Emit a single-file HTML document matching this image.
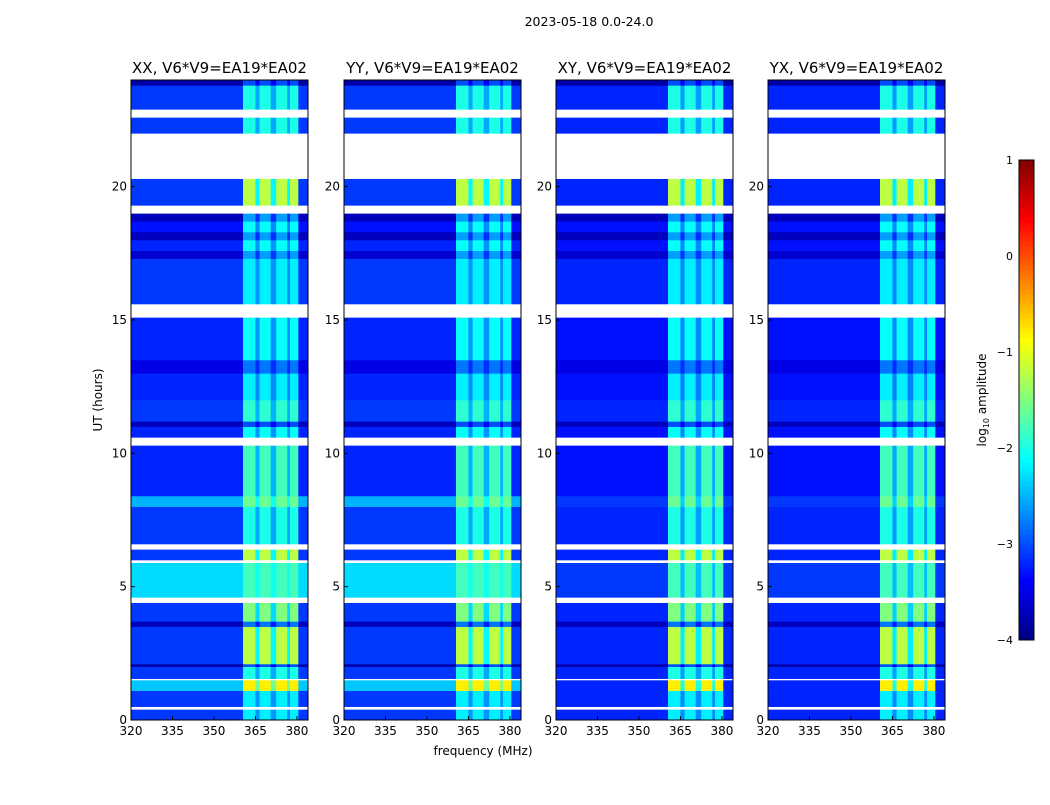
<!DOCTYPE html>
<html><head><meta charset="utf-8"><style>
body{margin:0;background:#fff;}
svg text{font-family:"DejaVu Sans","Liberation Sans",sans-serif;}
</style></head><body>
<svg id="fig" width="1050" height="800" viewBox="0 0 1050 800" xmlns="http://www.w3.org/2000/svg">
<rect width="1050" height="800" fill="#fff"/>
<text x="589" y="26" font-size="12.5" text-anchor="middle">2023-05-18 0.0-24.0</text>
<text x="483" y="755" font-size="12" text-anchor="middle">frequency (MHz)</text>
<text transform="translate(102,400) rotate(-90)" font-size="12" text-anchor="middle">UT (hours)</text>
<g id="panels"></g>
<g id="cbar"></g>
<text transform="translate(986,400) rotate(-90)" font-size="12" text-anchor="middle">log<tspan font-size="8" dy="3">10</tspan><tspan dy="-3"> amplitude</tspan></text>
</svg>
<script>
// ---- data ----
const panelTitles = ["XX, V6*V9=EA19*EA02","YY, V6*V9=EA19*EA02","XY, V6*V9=EA19*EA02","YX, V6*V9=EA19*EA02"];
const xTicks = [320,335,350,365,380];
const yTicks = [0,5,10,15,20];
const cbTicks = [1,0,-1,-2,-3,-4];
// time segments (hours): start, end, base level (parallel pols), base level (cross pols), RFI-band level; null = blank (white)
const segStart = [0,0.4,0.5,1.1,1.5,1.55,2.0,2.1,3.5,3.7,4.4,4.6,5.9,6.0,6.4,6.6,8.0,8.4,10.3,10.6,11.0,11.2,12.0,13.0,13.5,15.1,15.6,17.3,17.6,18.0,18.3,18.7,19.0,19.3,20.3,22.0,22.6,22.9,23.8];
const segEnd   = [0.4,0.5,1.1,1.5,1.55,2.0,2.1,3.5,3.7,4.4,4.6,5.9,6.0,6.4,6.6,8.0,8.4,10.3,10.6,11.0,11.2,12.0,13.0,13.5,15.1,15.6,17.3,17.6,18.0,18.3,18.7,19.0,19.3,20.3,22.0,22.6,22.9,23.8,24.0];
const segPar   = [-3.1,null,-3.1,-2.4,null,-3.1,-3.8,-3.1,-3.7,-3.1,null,-2.3,null,-3.1,null,-3.1,-2.5,-3.2,null,-3.2,-3.7,-3.1,-3.2,-3.5,-3.2,null,-3.1,-3.6,-3.2,-3.7,-3.3,-3.7,null,-3.1,null,-3.1,null,-3.1,-3.8];
const segCross = [-3.2,null,-3.2,-3.2,null,-3.2,-3.8,-3.2,-3.7,-3.2,null,-3.1,null,-3.2,null,-3.2,-3.1,-3.3,null,-3.3,-3.7,-3.2,-3.3,-3.5,-3.3,null,-3.2,-3.6,-3.3,-3.7,-3.3,-3.7,null,-3.2,null,-3.2,null,-3.2,-3.8];
const segRfi   = [-2.2,null,-2.2,-0.8,null,-2.0,-3.0,-1.2,-2.8,-1.5,null,-1.8,null,-1.2,null,-2.0,-1.6,-1.8,null,-2.1,-3.0,-1.9,-2.2,-2.8,-2.1,null,-2.2,-2.6,-2.1,-2.6,-2.1,-2.6,null,-1.2,null,-2.0,null,-2.0,-3.0];
// frequency columns (MHz) and RFI weight
const colStart = [320,360.5,365,366.5,370.5,372.5,376.5,377.5,380.5];
const colEnd   = [360.5,365,366.5,370.5,372.5,376.5,377.5,380.5,384];
const colRfi   = [0,1,0.5,1,0.5,1,0.5,1,0];
const panelLeft = [131,344,556,768];

// ---- axes ----
const PW=177, Y0=720, Y1=80;
function yScale(h){return Y0-(h/24)*(Y0-Y1);}
function xScale(f,p){return panelLeft[p]+(f-320)/(384-320)*PW;}
function jet(v){
 let t=Math.max(0,Math.min(1,(v+4)/5));
 const r=Math.max(0,Math.min(1,1.5-Math.abs(4*t-3)));
 const g=Math.max(0,Math.min(1,1.5-Math.abs(4*t-2)));
 const b=Math.max(0,Math.min(1,1.5-Math.abs(4*t-1)));
 return `rgb(${Math.round(r*255)},${Math.round(g*255)},${Math.round(b*255)})`;
}
const NS="http://www.w3.org/2000/svg";
function mk(tag,attrs,parent){const e=document.createElementNS(NS,tag);for(const k in attrs)e.setAttribute(k,attrs[k]);parent.appendChild(e);return e;}
const G=document.getElementById('panels');
for(let p=0;p<4;p++){
 const g=mk('g',{},G);
 
 
 const base = p<2?segPar:segCross;
 for(let s=0;s<segStart.length;s++){
  const y1=yScale(segEnd[s]), y2=yScale(segStart[s]);
  for(let c=0;c<colStart.length;c++){
   const b=base[s], r=segRfi[s];
   let fill;
   if(b===null) fill='#fff';
   else { const v = colRfi[c]>0 ? b+(r-b)*colRfi[c] : b; fill=jet(v); }
   const x1=xScale(colStart[c],p), x2=xScale(colEnd[c],p);
   const rc=mk('rect',{x:x1.toFixed(2),y:y1.toFixed(2),width:(x2-x1+0.3).toFixed(2),height:(y2-y1+0.3).toFixed(2),fill:fill},g);
   
   
  }
 }
 const fr=mk('rect',{x:panelLeft[p],y:Y1,width:PW,height:Y0-Y1,fill:'none',stroke:'#000','stroke-width':1},g);
 
 
 const t=mk('text',{x:panelLeft[p]+PW/2,y:73,'font-size':15,'text-anchor':'middle'},g);
 t.textContent=panelTitles[p];
 
 
 xTicks.forEach(v=>{
  const x=xScale(v,p);
  mk('line',{x1:x,x2:x,y1:Y0,y2:Y0-4,stroke:'#000'},g);
  const tl=mk('text',{x:x,y:Y0+15,'font-size':12,'text-anchor':'middle'},g);
  tl.textContent=v;
  
  
 });
 yTicks.forEach(v=>{
  const y=yScale(v);
  mk('line',{x1:panelLeft[p],x2:panelLeft[p]+4,y1:y,y2:y,stroke:'#000'},g);
  const tl=mk('text',{x:panelLeft[p]-4,y:y+4,'font-size':12,'text-anchor':'end'},g);
  tl.textContent=v;
  
  
 });
}
// colorbar
const CB=document.getElementById('cbar');
const cbTop=160, cbBot=640, cbX=1019, cbW=15;
function cbY(v){return cbBot-(v+4)/5*(cbBot-cbTop);}
for(let i=0;i<100;i++){
 const v0=-4+i*0.05;
 mk('rect',{x:cbX,y:cbY(v0+0.05),width:cbW,height:(cbBot-cbTop)/100+0.5,fill:jet(v0+0.025)},CB);
}
mk('rect',{x:cbX,y:cbTop,width:cbW,height:cbBot-cbTop,fill:'none',stroke:'#000'},CB);
cbTicks.forEach(v=>{
 const y=cbY(v);
 const tl=mk('text',{x:1013,y:y+4,'font-size':11,'text-anchor':'end'},CB);
 tl.textContent=v<0?'\u2212'+(-v):String(v);
 
 
});
</script>
</body></html>
